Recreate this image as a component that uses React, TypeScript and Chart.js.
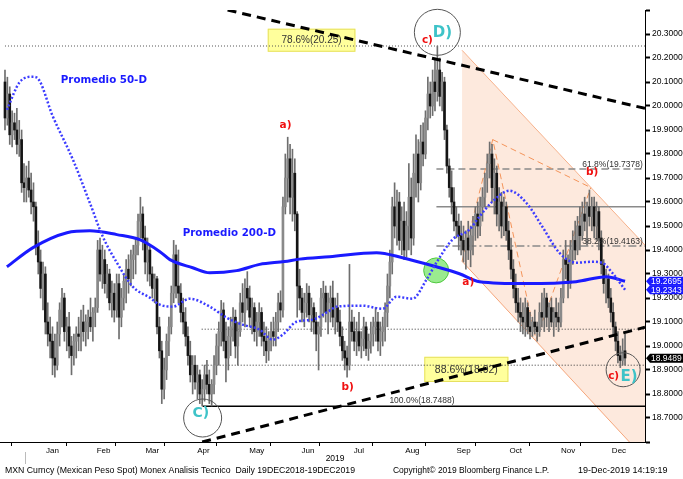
import React, { useEffect, useRef } from 'react';
import { Chart, registerables } from 'chart.js';

Chart.register(...registerables);

// ---------- DATA ----------
const monthLabels = ['Jan', 'Feb', 'Mar', 'Apr', 'May', 'Jun', 'Jul', 'Aug', 'Sep', 'Oct', 'Nov', 'Dec'];
const yearLabel = '2019';
// trading-day index of the first bar of each month (bar 0 = 19-Dec-2018)
const monthStarts = [9, 32, 52, 73, 95, 118, 138, 161, 183, 204, 227, 248];

const opens = [
  20.10, 19.95, 20.05, 19.88, 19.93, 19.90, 19.84, 19.86, 19.68,
  19.66, 19.70, 19.65, 19.60, 19.58, 19.42, 19.35, 19.24, 19.30, 19.10, 19.05, 19.02, 18.95, 18.92, 19.05, 19.15, 19.20, 19.06, 19.08, 19.00, 18.96, 19.02, 19.05,
  19.04, 19.10, 19.06, 19.10, 19.12, 19.08, 19.14, 19.16, 19.40, 19.30, 19.36, 19.26, 19.30, 19.18, 19.22, 19.15, 19.26, 19.12, 19.20, 19.27,
  19.32, 19.28, 19.36, 19.38, 19.42, 19.52, 19.55, 19.45, 19.35, 19.40, 19.30, 19.24, 19.28, 19.08, 18.98, 18.82, 18.90, 19.02, 19.08, 19.22, 19.38,
  19.25, 19.22, 19.14, 19.10, 19.04, 18.96, 18.88, 18.92, 18.85, 18.88, 18.80, 18.82, 18.88, 18.84, 18.80, 18.84, 18.92, 19.00, 19.06, 19.15, 19.02, 18.95,
  19.04, 19.08, 19.12, 19.00, 19.06, 19.18, 19.14, 19.24, 19.20, 19.12, 19.16, 19.06, 19.10, 19.14, 19.04, 19.02, 18.98, 19.03, 19.06, 19.04, 19.10, 19.18, 19.15,
  19.58, 19.70, 19.78, 19.62, 19.72, 19.55, 19.25, 19.20, 19.14, 19.18, 19.22, 19.13, 19.16, 19.10, 19.05, 19.08, 19.20, 19.22, 19.14, 19.18,
  19.20, 19.12, 19.16, 19.10, 19.04, 18.98, 18.95, 18.92, 19.10, 19.06, 19.02, 19.06, 19.00, 19.03, 19.08, 18.99, 19.02, 19.05, 19.08, 19.10, 19.02, 19.06, 19.08,
  19.14, 19.25, 19.35, 19.58, 19.50, 19.60, 19.44, 19.52, 19.40, 19.50, 19.62, 19.45, 19.72, 19.80, 19.68, 19.85, 19.80, 19.95, 20.05, 20.00, 20.10, 20.06,
  20.15, 20.04, 20.10, 19.90, 19.75, 19.66, 19.60, 19.52, 19.50, 19.46, 19.44, 19.40, 19.45, 19.40, 19.46, 19.50, 19.55, 19.50, 19.58, 19.62, 19.70,
  19.76, 19.80, 19.66, 19.72, 19.55, 19.60, 19.50, 19.58, 19.48, 19.40, 19.32, 19.24, 19.18, 19.14, 19.12, 19.10, 19.16, 19.08, 19.06, 19.10, 19.08, 19.06, 19.14,
  19.12, 19.20, 19.12, 19.16, 19.10, 19.14, 19.12, 19.10, 19.20, 19.36, 19.34, 19.26, 19.40, 19.44, 19.40, 19.50, 19.46, 19.55, 19.52, 19.58, 19.54,
  19.58, 19.50, 19.56, 19.45, 19.34, 19.26, 19.28, 19.20, 19.14, 19.08, 19.02, 18.96, 18.94, 18.98,
];
const highs = [
  20.15, 20.12, 20.08, 19.98, 19.97, 19.99, 19.94, 19.90, 19.76,
  19.75, 19.77, 19.72, 19.68, 19.60, 19.48, 19.40, 19.35, 19.33, 19.18, 19.12, 19.08, 19.05, 19.10, 19.18, 19.24, 19.22, 19.12, 19.14, 19.04, 19.05, 19.08, 19.12,
  19.15, 19.17, 19.13, 19.15, 19.20, 19.16, 19.20, 19.44, 19.45, 19.42, 19.40, 19.34, 19.32, 19.27, 19.26, 19.30, 19.30, 19.24, 19.30, 19.36,
  19.38, 19.40, 19.42, 19.45, 19.55, 19.62, 19.58, 19.50, 19.45, 19.42, 19.33, 19.30, 19.29, 19.12, 19.02, 18.95, 19.05, 19.12, 19.25, 19.44, 19.42,
  19.40, 19.26, 19.20, 19.16, 19.08, 19.02, 18.96, 18.96, 18.92, 18.90, 18.86, 18.92, 18.94, 18.90, 18.86, 18.96, 19.05, 19.10, 19.19, 19.18, 19.10, 19.08,
  19.12, 19.16, 19.15, 19.10, 19.22, 19.26, 19.28, 19.31, 19.25, 19.20, 19.18, 19.14, 19.18, 19.16, 19.10, 19.08, 19.06, 19.10, 19.12, 19.14, 19.22, 19.23, 19.62,
  19.80, 19.87, 19.84, 19.82, 19.78, 19.56, 19.32, 19.24, 19.22, 19.26, 19.25, 19.20, 19.18, 19.14, 19.10, 19.24, 19.27, 19.25, 19.22, 19.25,
  19.27, 19.20, 19.22, 19.15, 19.08, 19.02, 19.00, 19.34, 19.15, 19.12, 19.10, 19.14, 19.06, 19.12, 19.10, 19.05, 19.10, 19.12, 19.16, 19.14, 19.10, 19.12, 19.18,
  19.30, 19.40, 19.62, 19.68, 19.65, 19.64, 19.58, 19.60, 19.56, 19.76, 19.70, 19.80, 19.88, 19.86, 19.92, 19.93, 19.98, 20.12, 20.10, 20.15, 20.20, 20.25,
  20.20, 20.14, 20.12, 19.92, 19.78, 19.73, 19.66, 19.58, 19.55, 19.52, 19.50, 19.48, 19.52, 19.50, 19.54, 19.58, 19.60, 19.62, 19.66, 19.72, 19.80,
  19.85, 19.84, 19.78, 19.75, 19.66, 19.64, 19.62, 19.60, 19.52, 19.45, 19.36, 19.30, 19.24, 19.20, 19.18, 19.20, 19.18, 19.14, 19.12, 19.15, 19.10, 19.18, 19.22,
  19.24, 19.22, 19.18, 19.20, 19.16, 19.20, 19.18, 19.24, 19.40, 19.44, 19.38, 19.44, 19.48, 19.52, 19.54, 19.58, 19.60, 19.62, 19.60, 19.65, 19.62,
  19.62, 19.60, 19.58, 19.48, 19.36, 19.32, 19.30, 19.24, 19.18, 19.10, 19.06, 19.00, 19.03, 19.05,
];
const lows = [
  19.90, 19.92, 19.84, 19.83, 19.86, 19.80, 19.79, 19.64, 19.60,
  19.60, 19.62, 19.55, 19.52, 19.38, 19.30, 19.20, 19.15, 19.05, 19.00, 18.95, 18.88, 18.87, 18.90, 19.00, 19.08, 19.02, 18.98, 18.95, 18.88, 18.92, 18.95, 18.98,
  18.98, 19.02, 19.00, 19.03, 19.06, 19.02, 19.08, 19.14, 19.27, 19.24, 19.22, 19.20, 19.15, 19.12, 19.10, 19.12, 19.03, 19.08, 19.15, 19.18,
  19.22, 19.25, 19.28, 19.30, 19.38, 19.45, 19.40, 19.30, 19.27, 19.25, 19.20, 19.18, 19.05, 18.95, 18.76, 18.78, 18.86, 18.96, 19.05, 19.18, 19.20,
  19.18, 19.10, 19.05, 19.00, 18.92, 18.85, 18.80, 18.82, 18.78, 18.76, 18.75, 18.77, 18.80, 18.76, 18.75, 18.80, 18.88, 18.92, 19.00, 18.98, 18.85, 18.90,
  18.96, 19.02, 18.95, 18.92, 19.04, 19.10, 19.08, 19.15, 19.08, 19.05, 19.02, 19.00, 19.04, 19.00, 18.96, 18.93, 18.94, 18.98, 19.00, 19.00, 19.06, 19.10, 19.12,
  19.55, 19.60, 19.55, 19.52, 19.48, 19.12, 19.15, 19.10, 19.08, 19.12, 19.10, 19.06, 19.05, 18.98, 18.90, 19.04, 19.12, 19.10, 19.05, 19.10,
  19.08, 19.05, 19.06, 19.00, 18.94, 18.90, 18.87, 18.90, 19.02, 18.98, 18.96, 18.98, 18.95, 18.98, 18.96, 18.94, 18.97, 19.00, 19.02, 18.98, 18.96, 19.00, 19.02,
  19.08, 19.20, 19.30, 19.45, 19.42, 19.40, 19.38, 19.36, 19.37, 19.40, 19.38, 19.42, 19.62, 19.60, 19.65, 19.75, 19.78, 19.90, 19.95, 19.96, 19.98, 20.02,
  20.00, 19.98, 19.86, 19.72, 19.62, 19.55, 19.48, 19.45, 19.40, 19.38, 19.35, 19.32, 19.36, 19.33, 19.38, 19.44, 19.45, 19.46, 19.52, 19.58, 19.64,
  19.70, 19.60, 19.55, 19.50, 19.48, 19.45, 19.46, 19.44, 19.36, 19.28, 19.20, 19.14, 19.10, 19.06, 19.05, 19.04, 19.05, 19.03, 19.04, 19.05, 19.02, 19.04, 19.08,
  19.06, 19.08, 19.06, 19.08, 19.04, 19.08, 19.06, 19.08, 19.18, 19.28, 19.20, 19.24, 19.34, 19.36, 19.38, 19.40, 19.44, 19.48, 19.42, 19.50, 19.48,
  19.45, 19.44, 19.40, 19.30, 19.22, 19.18, 19.16, 19.10, 19.04, 18.98, 18.93, 18.91, 18.92, 18.92,
];
const closes = [
  19.95, 20.05, 19.88, 19.93, 19.90, 19.84, 19.86, 19.68, 19.66,
  19.70, 19.65, 19.60, 19.58, 19.42, 19.35, 19.24, 19.30, 19.10, 19.05, 19.02, 18.95, 18.92, 19.05, 19.15, 19.20, 19.06, 19.08, 19.00, 18.96, 19.02, 19.05, 19.04,
  19.10, 19.06, 19.10, 19.12, 19.08, 19.14, 19.16, 19.40, 19.30, 19.36, 19.26, 19.30, 19.18, 19.22, 19.15, 19.26, 19.12, 19.20, 19.27, 19.32,
  19.28, 19.36, 19.38, 19.42, 19.52, 19.55, 19.45, 19.35, 19.40, 19.30, 19.24, 19.28, 19.08, 18.98, 18.82, 18.90, 19.02, 19.08, 19.22, 19.38, 19.25,
  19.22, 19.14, 19.10, 19.04, 18.96, 18.88, 18.92, 18.85, 18.88, 18.80, 18.82, 18.88, 18.84, 18.80, 18.84, 18.92, 19.00, 19.06, 19.15, 19.02, 18.95, 19.04,
  19.08, 19.12, 19.00, 19.06, 19.18, 19.14, 19.24, 19.20, 19.12, 19.16, 19.06, 19.10, 19.14, 19.04, 19.02, 18.98, 19.03, 19.06, 19.04, 19.10, 19.18, 19.15, 19.58,
  19.70, 19.78, 19.62, 19.72, 19.55, 19.25, 19.20, 19.14, 19.18, 19.22, 19.13, 19.16, 19.10, 19.05, 19.08, 19.20, 19.22, 19.14, 19.18, 19.20,
  19.12, 19.16, 19.10, 19.04, 18.98, 18.95, 18.92, 19.10, 19.06, 19.02, 19.06, 19.00, 19.03, 19.08, 18.99, 19.02, 19.05, 19.08, 19.10, 19.02, 19.06, 19.08, 19.14,
  19.25, 19.35, 19.58, 19.50, 19.60, 19.44, 19.52, 19.40, 19.50, 19.62, 19.45, 19.72, 19.80, 19.68, 19.85, 19.80, 19.95, 20.05, 20.00, 20.10, 20.06, 20.15,
  20.04, 20.10, 19.90, 19.75, 19.66, 19.60, 19.52, 19.50, 19.46, 19.44, 19.40, 19.45, 19.40, 19.46, 19.50, 19.55, 19.50, 19.58, 19.62, 19.70, 19.76,
  19.80, 19.66, 19.72, 19.55, 19.60, 19.50, 19.58, 19.48, 19.40, 19.32, 19.24, 19.18, 19.14, 19.12, 19.10, 19.16, 19.08, 19.06, 19.10, 19.08, 19.06, 19.14, 19.12,
  19.20, 19.12, 19.16, 19.10, 19.14, 19.12, 19.10, 19.20, 19.36, 19.34, 19.26, 19.40, 19.44, 19.40, 19.50, 19.46, 19.55, 19.52, 19.58, 19.54, 19.58,
  19.50, 19.56, 19.45, 19.34, 19.26, 19.28, 19.20, 19.14, 19.08, 19.02, 18.96, 18.94, 18.98, 18.95,
];

// Moving averages read at sample bars
const ma200Idx = [0.8, 11.8, 26.1, 35.7, 47.1, 56.7, 65.2, 69.4, 79.0, 86.2, 97.5, 107.2, 117.7, 124.0, 136.6, 156.4, 167.3, 181.6, 191.3, 199.7, 219.4, 240.4, 253.1, 261];
const ma200Val = [19.33, 19.41, 19.472, 19.48, 19.464, 19.443, 19.393, 19.36, 19.326, 19.305, 19.314, 19.34, 19.352, 19.362, 19.372, 19.389, 19.368, 19.33, 19.301, 19.268, 19.26, 19.268, 19.289, 19.2695];
const ma50Idx = [0.8, 6.3, 11.8, 13.5, 20.2, 28.6, 35.7, 41.2, 47.1, 53.8, 61.0, 65.2, 70.6, 77.8, 86.2, 93.3, 100.0, 107.2, 112.7, 116.9, 122.7, 129.5, 136.6, 139.6, 150.5, 158.9, 164.8, 171.5, 177.4, 181.6, 188.3, 195.5, 199.7, 205.1, 212.3, 219.4, 226.2, 233.3, 240.4, 247.1, 251.3, 255.6, 261];
const ma50Val = [19.984, 20.101, 20.122, 20.118, 19.955, 19.776, 19.597, 19.455, 19.347, 19.247, 19.201, 19.172, 19.164, 19.197, 19.164, 19.118, 19.089, 19.068, 19.026, 19.047, 19.101, 19.11, 19.147, 19.164, 19.168, 19.155, 19.205, 19.197, 19.276, 19.347, 19.443, 19.485, 19.539, 19.601, 19.647, 19.597, 19.497, 19.389, 19.347, 19.351, 19.347, 19.305, 19.2343];

// Right-axis value tags
const lastPrice = 18.9489;
const ma200Last = 19.2695;
const ma50Last = 19.2343;

// Fibonacci / support levels
const levelLabels = ['78.6%(20.25)', '61.8%(19.7378)', '38.2%(19.4163)', '88.6%(18.92)', '100.0%(18.7488)'];
const levelValues = [20.25, 19.7378, 19.4163, 18.92, 18.7488];
const midLevel = 19.58;
const upperSupport = 19.07;
const levelStartIdx = [0, 181.6, 181.6, 82.8, 83.2];

// Trend lines (index, value)
const upperTrendIdx = [93.7, 269.4];
const upperTrendVal = [20.40, 19.99];
const lowerTrendIdx = [83.0, 269.4];
const lowerTrendVal = [18.60, 19.078];

// Descending channel
const chUpperIdx = [192.4, 269.4];
const chUpperVal = [20.232, 19.42];
const chLowerIdx = [192.4, 269.4];
const chLowerVal = [19.353, 18.53];

// a-b-c swing inside the channel
const abcIdx = [192.4, 205.3, 223.5, 246.6];
const abcVal = [19.353, 19.86, 19.027, 19.66];
const abLinkIdx = [205.3, 246.6];
const abLinkVal = [19.86, 19.66];

// Wave pivots (D, C, E) and MA crossover
const waveNames = ['D)', 'C)', 'E)'];
const waveIdx = [182.0, 83.2, 260.2];
const waveVal = [20.307, 18.70, 18.901];
const crossIdx = [181.5];
const crossVal = [19.315];

// ---------- LAYOUT ----------
const X_MIN = -2.1;
const X_MAX = 269.4;
const Y_MIN = 18.6;
const Y_MAX = 20.4;

const pts = (xs: number[], ys: number[]) => xs.map((x, k) => ({ x, y: ys[k] }));

export default function App() {
  const ref = useRef<HTMLCanvasElement>(null);

  useEffect(() => {
    document.body.style.margin = '0';
    Chart.defaults.font.family = "'Liberation Sans', Arial, sans-serif";

    const idx = closes.map((_, k) => k);
    const wickData = idx.map((k) => ({ x: k, y: [lows[k], highs[k]] }));
    const bodyData = idx.map((k) => ({ x: k, y: [opens[k], closes[k]] }));
    const bodyColors = idx.map((k) => (closes[k] >= opens[k] ? '#8a8a8a' : '#141414'));

    const tickStarts = monthStarts.map((s) => s - 0.5);
    const tickMids = tickStarts.map((t, m) => (t + (m < tickStarts.length - 1 ? tickStarts[m + 1] : X_MAX)) / 2);
    const labelMap = new Map<string, string>();
    tickMids.forEach((v, m) => labelMap.set(v.toFixed(2), monthLabels[m]));
    const startSet = new Set(tickStarts.map((v) => v.toFixed(2)));

    const hline = (start: number, v: number) => [{ x: start, y: v }, { x: X_MAX, y: v }];

    const datasets: any[] = [
      {
        type: 'line', data: pts(chUpperIdx, chUpperVal), borderColor: '#f5a57a', borderWidth: 1,
        pointRadius: 0, fill: false, order: 102,
      },
      {
        type: 'line', data: pts(chLowerIdx, chLowerVal), borderColor: '#f5a57a', borderWidth: 1,
        pointRadius: 0, fill: '-1', backgroundColor: 'rgba(252, 212, 188, 0.5)', order: 101,
      },
      { type: 'line', data: hline(levelStartIdx[0], levelValues[0]), borderColor: '#555', borderWidth: 1, borderDash: [1, 2], pointRadius: 0, order: 90 },
      { type: 'line', data: hline(levelStartIdx[1], levelValues[1]), borderColor: '#8a8a8a', borderWidth: 1.5, borderDash: [7, 4], pointRadius: 0, order: 90 },
      { type: 'line', data: hline(levelStartIdx[1], midLevel), borderColor: '#8a8a8a', borderWidth: 1.5, pointRadius: 0, order: 90 },
      { type: 'line', data: hline(levelStartIdx[2], levelValues[2]), borderColor: '#8a8a8a', borderWidth: 1.5, borderDash: [8, 3, 2, 3], pointRadius: 0, order: 90 },
      { type: 'line', data: hline(levelStartIdx[3], upperSupport), borderColor: '#333', borderWidth: 1, borderDash: [1, 2], pointRadius: 0, order: 90 },
      { type: 'line', data: hline(levelStartIdx[3], levelValues[3]), borderColor: '#333', borderWidth: 1, borderDash: [1, 2], pointRadius: 0, order: 90 },
      { type: 'line', data: hline(levelStartIdx[4], levelValues[4]), borderColor: '#000', borderWidth: 1.5, pointRadius: 0, order: 90 },
      { type: 'line', data: pts(abcIdx, abcVal), borderColor: '#f4945a', borderWidth: 1, borderDash: [6, 4], pointRadius: 0, order: 85 },
      { type: 'line', data: pts(abLinkIdx, abLinkVal), borderColor: '#f4945a', borderWidth: 1, borderDash: [6, 4], pointRadius: 0, order: 85 },
      { type: 'bar', data: wickData, backgroundColor: '#6e6e6e', barThickness: 1, grouped: false, order: 80 },
      { type: 'bar', data: bodyData, backgroundColor: bodyColors, barThickness: 2, grouped: false, order: 79 },
      {
        type: 'scatter', data: pts(crossIdx, crossVal), pointRadius: 12.5, pointBackgroundColor: 'rgba(120, 228, 105, 0.75)',
        pointBorderColor: '#4fc83e', pointBorderWidth: 1, order: 75,
      },
      {
        type: 'line', data: pts(ma200Idx, ma200Val), borderColor: '#1a1aff', borderWidth: 3, pointRadius: 0,
        cubicInterpolationMode: 'monotone', order: 70,
      },
      {
        type: 'line', data: pts(ma50Idx, ma50Val), borderColor: '#3c3cff', borderWidth: 2.5, borderDash: [2, 2],
        pointRadius: 0, cubicInterpolationMode: 'monotone', order: 69,
      },
      { type: 'line', data: pts(upperTrendIdx, upperTrendVal), borderColor: '#000', borderWidth: 3, borderDash: [9, 6], pointRadius: 0, order: 60 },
      { type: 'line', data: pts(lowerTrendIdx, lowerTrendVal), borderColor: '#000', borderWidth: 3, borderDash: [9, 6], pointRadius: 0, order: 60 },
      {
        type: 'scatter', data: pts(waveIdx, waveVal), pointRadius: [23, 19, 17], pointBackgroundColor: 'rgba(0,0,0,0)',
        pointBorderColor: '#555', pointBorderWidth: 1, clip: false, order: 50,
      },
    ];

    const CHANNEL_LOWER = 1;

    const annot = {
      id: 'annot',
      afterDatasetDraw(chart: any, args: any) {
        if (args.index !== CHANNEL_LOWER) return;
        const { ctx, scales } = chart;
        const X = scales.x, Y = scales.y;
        const box = (i0: number, i1: number, v0: number, v1: number, text: string, size: number) => {
          const x0 = X.getPixelForValue(i0), x1 = X.getPixelForValue(i1);
          const y0 = Y.getPixelForValue(v0), y1 = Y.getPixelForValue(v1);
          ctx.save();
          ctx.fillStyle = '#ffff9c';
          ctx.strokeStyle = '#e6e060';
          ctx.lineWidth = 1;
          ctx.fillRect(x0, y0, x1 - x0, y1 - y0);
          ctx.strokeRect(x0 + 0.5, y0 + 0.5, x1 - x0 - 1, y1 - y0 - 1);
          ctx.fillStyle = '#333';
          ctx.font = `${size}px 'Liberation Sans', Arial, sans-serif`;
          ctx.textAlign = 'center';
          ctx.textBaseline = 'middle';
          ctx.fillText(text, (x0 + x1) / 2, (y0 + y1) / 2 + 0.5);
          ctx.restore();
        };
        box(110.6, 147.5, 20.322, 20.226, levelLabels[0], 10);
        box(176.5, 211.9, 18.955, 18.85, levelLabels[3], 10.5);
      },
      afterDatasetsDraw(chart: any) {
        const { ctx, scales } = chart;
        const X = scales.x, Y = scales.y;
        const t = (text: string, i: number, v: number, font: string, color: string, align: CanvasTextAlign = 'center') => {
          ctx.save();
          ctx.font = font;
          ctx.fillStyle = color;
          ctx.textAlign = align;
          ctx.textBaseline = 'middle';
          ctx.fillText(text, X.getPixelForValue(i), Y.getPixelForValue(v));
          ctx.restore();
        };
        const blue = "bold 10.3px 'DejaVu Sans', sans-serif";
        t('Promedio 50-D', 23.5, 20.105, blue, '#1a1aff', 'left');
        t('Promedio 200-D', 74.8, 19.468, blue, '#1a1aff', 'left');
        const red = "bold 10.5px 'DejaVu Sans', sans-serif";
        t('a)', 118.1, 19.918, red, '#f01010');
        t('b)', 144.2, 18.83, red, '#f01010');
        t('a)', 195.0, 19.264, red, '#f01010');
        t('b)', 247.2, 19.722, red, '#f01010');
        t('c)', 177.8, 20.272, red, '#f01010');
        t('c)', 256.2, 18.873, red, '#f01010');
        const cyan = "bold 15px 'DejaVu Sans', sans-serif";
        t(waveNames[0], 184.1, 20.305, cyan, '#3ec3c8');
        t(waveNames[1], 82.4, 18.718, "bold 14px 'DejaVu Sans', sans-serif", '#3ec3c8');
        t(waveNames[2], 262.7, 18.872, cyan, '#3ec3c8');
        const small = "8.5px 'Liberation Sans', Arial, sans-serif";
        t(levelLabels[1], 243.0, 19.755, small, '#333', 'left');
        t(levelLabels[2], 243.0, 19.436, small, '#333', 'left');
        t(levelLabels[4], 161.8, 18.772, small, '#333', 'left');
      },
      afterDraw(chart: any) {
        const { ctx, scales } = chart;
        const X = scales.x, Y = scales.y;
        const tag = (v: number, color: string) => {
          const yc = Y.getPixelForValue(v);
          const x0 = chart.chartArea.right + 1;
          ctx.save();
          ctx.fillStyle = color;
          ctx.beginPath();
          ctx.moveTo(x0, yc);
          ctx.lineTo(x0 + 4, yc - 4.5);
          ctx.lineTo(683, yc - 4.5);
          ctx.lineTo(683, yc + 4.5);
          ctx.lineTo(x0 + 4, yc + 4.5);
          ctx.closePath();
          ctx.fill();
          ctx.fillStyle = '#fff';
          ctx.font = "8.5px 'Liberation Sans', Arial, sans-serif";
          ctx.textAlign = 'left';
          ctx.textBaseline = 'middle';
          ctx.fillText(v.toFixed(4), x0 + 5, yc + 0.5);
          ctx.restore();
        };
        tag(ma200Last, '#1a1aff');
        tag(ma50Last, '#1a1aff');
        tag(lastPrice, '#000');

        ctx.save();
        // year label under the month axis (centred on the year's span of bars)
        ctx.fillStyle = '#000';
        ctx.font = "8.5px 'Liberation Sans', Arial, sans-serif";
        ctx.textAlign = 'center';
        ctx.textBaseline = 'middle';
        ctx.fillText(yearLabel, (X.getPixelForValue(monthStarts[0] - 0.5) + X.getPixelForValue(X_MAX)) / 2, 459);

        ctx.strokeStyle = '#bbb';
        ctx.lineWidth = 1;
        ctx.beginPath();
        ctx.moveTo(25.5, 452);
        ctx.lineTo(25.5, 464);
        ctx.stroke();
        ctx.font = "9px 'Liberation Sans', Arial, sans-serif";
        ctx.textAlign = 'left';
        ctx.fillText('MXN Curncy (Mexican Peso Spot) Monex Analisis Tecnico  Daily 19DEC2018-19DEC2019', 5, 471, 350);
        ctx.fillText('Copyright\u00A9 2019 Bloomberg Finance L.P.', 393, 471, 156);
        ctx.fillText('19-Dec-2019 14:19:19', 578, 471, 105);
        ctx.restore();
      },
    };

    const chart = new Chart(ref.current!, {
      type: 'bar',
      data: { datasets },
      options: {
        animation: false,
        responsive: true,
        maintainAspectRatio: false,
        events: [],
        layout: { autoPadding: false, padding: { top: 10, left: 0, right: 0, bottom: 0 } },
        plugins: { legend: { display: false }, tooltip: { enabled: false } },
        scales: {
          x: {
            type: 'linear',
            min: X_MIN,
            max: X_MAX,
            offset: false,
            afterBuildTicks: (axis: any) => {
              axis.ticks = [...tickStarts, ...tickMids].sort((a, b) => a - b).map((value) => ({ value }));
            },
            afterFit: (axis: any) => { axis.height = 37; },
            ticks: {
              autoSkip: false,
              maxRotation: 0,
              padding: 0,
              color: '#000',
              font: { size: 8 },
              callback: (value: any) => labelMap.get(Number(value).toFixed(2)) ?? '',
            },
            grid: {
              drawOnChartArea: false,
              tickLength: 4,
              tickColor: (c: any) => (c.tick && startSet.has(Number(c.tick.value).toFixed(2)) ? '#000' : 'rgba(0,0,0,0)'),
            },
            border: { display: true, color: '#000', width: 1 },
          },
          y: {
            type: 'linear',
            position: 'right',
            min: Y_MIN,
            max: Y_MAX,
            afterFit: (axis: any) => { axis.width = 38; },
            ticks: {
              stepSize: 0.1,
              padding: 2,
              color: '#000',
              font: { size: 8.5 },
              callback: (value: any) => {
                const v = Number(value);
                if (Math.abs(v - Y_MIN) < 1e-6 || Math.abs(v - Y_MAX) < 1e-6) return '';
                return v.toFixed(4);
              },
            },
            grid: { drawOnChartArea: false, tickLength: 5, tickColor: '#000', tickWidth: 2 },
            border: { display: true, color: '#000', width: 1 },
          },
        },
      },
      plugins: [annot],
    } as any);

    return () => chart.destroy();
  }, []);

  return (
    <div style={{ width: 683, height: 479, position: 'relative' }}>
      <canvas ref={ref} />
    </div>
  );
}
